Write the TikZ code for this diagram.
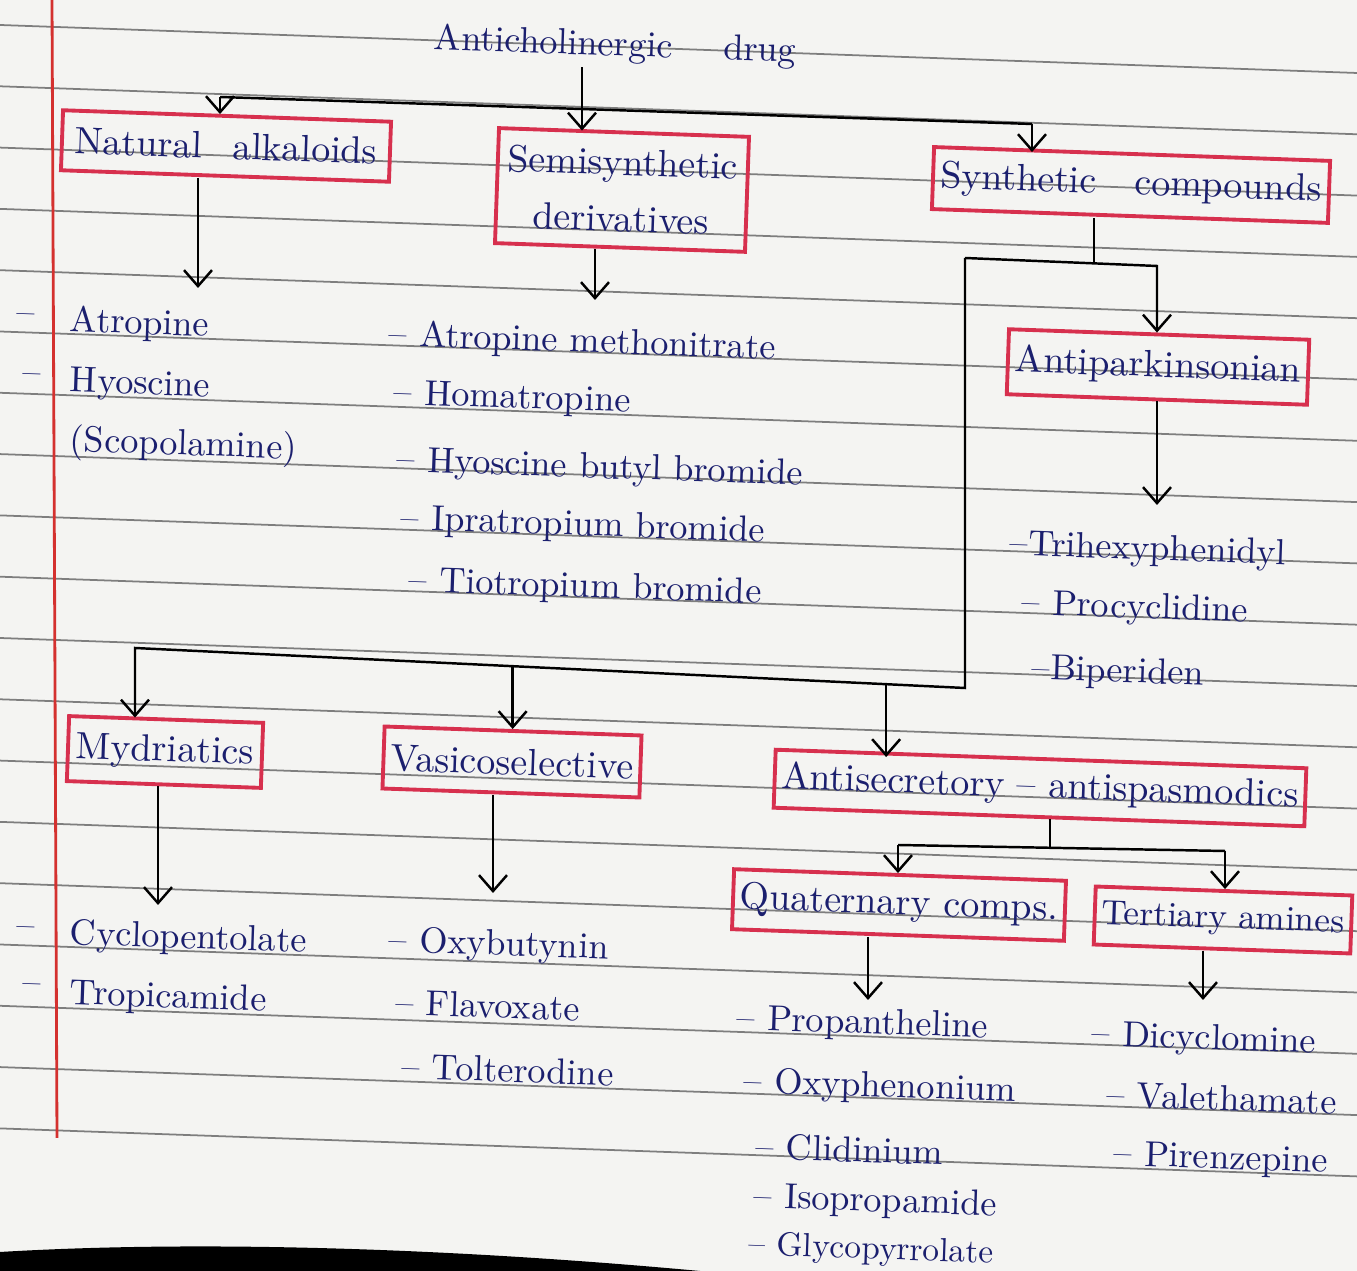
\documentclass[tikz,border=0pt]{standalone}
\usepackage{tikz}
\usetikzlibrary{arrows.meta,calc}
\definecolor{ink}{HTML}{1B1F6E}
\definecolor{boxred}{HTML}{D7304E}
\definecolor{paper}{HTML}{F4F4F2}
\definecolor{ruled}{HTML}{7E7E7E}
\definecolor{margin}{HTML}{D4312F}

\begin{document}
\begin{tikzpicture}[x=0.01cm, y=-0.01cm,
  box/.style={draw=boxred, line width=1.1pt, text=ink, font=\fontsize{10.8}{13}\selectfont, rotate=-2, inner sep=2pt, align=center},
  item/.style={anchor=west, text=ink, font=\fontsize{10.3}{12}\selectfont, rotate=-2, inner sep=1pt},
  arr/.style={-{Straight Barb[length=1.6mm,width=2.8mm]}, line width=0.7pt},
  link/.style={line width=0.7pt},
  rule/.style={ruled, line width=0.5pt}]
\useasboundingbox (0,0) rectangle (1357,1271);
% the notebook page
\fill[paper] (0,0) rectangle (1357,1271);
\foreach \y in {25,86.3,...,1129}
  \draw[rule] (0,\y) -- (1357,\y+48);
\draw[margin, line width=0.8pt] (52,0) -- (57,1138);
\fill[black] (0,1271) -- (0,1252) .. controls (200,1240) and (450,1248) .. (700,1271) -- cycle;

% title and first level
\node[item] (title) at (430,40) {Anticholinergic\hspace{1.4em}drug};
\node[box, minimum width=3.28cm, minimum height=0.6cm] (nat) at (226,146) {Natural\hspace{0.8em}alkaloids};
\node[box, minimum width=2.5cm, minimum height=1.15cm] (semi) at (622,190) {Semisynthetic\\[3pt]derivatives};
\node[box, minimum width=3.96cm, minimum height=0.62cm] (syn) at (1131,185) {Synthetic\hspace{1em}compounds};

\coordinate (t1) at (582,60);
\coordinate (b1) at (220,97);
\coordinate (b2) at (1032,124);
\draw[arr] (title.south -| t1) -- (t1 |- semi.north);
\draw[link] (b1) -- (b2);
\draw[arr] (b1) -- (b1 |- nat.north);
\draw[arr] (b2) -- (b2 |- syn.north);

% natural alkaloids
\coordinate (a1) at (198,288);
\draw[arr] (nat.south -| a1) -- (a1);
\node[item] (d1) at (12,318) {--};
\node[item] (n1) at (66,322) {Atropine};
\node[item] (d2) at (18,378) {--};
\node[item] (n2) at (66,383) {Hyoscine};
\node[item] (n3) at (66,442) {(Scopolamine)};

% semisynthetic derivatives
\coordinate (a2) at (595,300);
\draw[arr] (semi.south -| a2) -- (a2);
\node[item] (e1) at (385,336) {-- Atropine methonitrate};
\node[item] (e2) at (390,395) {-- Homatropine};
\node[item] (e3) at (393,462) {-- Hyoscine butyl bromide};
\node[item] (e4) at (397,520) {-- Ipratropium bromide};
\node[item] (e5) at (405,582) {-- Tiotropium bromide};

% synthetic compounds
\node[box, minimum width=2.8cm, minimum height=0.65cm] (apk) at (1158,367) {Antiparkinsonian};
\coordinate (s1) at (1094,262);
\coordinate (s2) at (965,258);
\coordinate (s3) at (1157,266);
\coordinate (s4) at (965,688);
\coordinate (m1) at (135,648);
\draw[link] (syn.south -| s1) -- (s1);
\draw[arr] (s2) -- (s3) -- (s3 |- apk.north);
\coordinate (a3) at (1157,505);
\draw[arr] (apk.south -| a3) -- (a3);
\node[item] (p1) at (1006,546) {--Trihexyphenidyl};
\node[item] (p2) at (1018,605) {-- Procyclidine};
\node[item] (p3) at (1028,670) {--Biperiden};

% second level
\node[box, minimum width=1.94cm, minimum height=0.65cm] (myd) at (165,752) {Mydriatics};
\node[box, minimum width=2.28cm, minimum height=0.62cm] (ves) at (512,762) {Vasicoselective};
\node[box, minimum width=5.18cm, minimum height=0.58cm] (asec) at (1040,788) {Antisecretory -- antispasmodics};
\coordinate (m2) at ($(m1)!0.455!(s4)$);
\coordinate (m3) at ($(m1)!0.905!(s4)$);
\draw[arr] (s2) -- (s4) -- (m1) -- (m1 |- myd.north);
\draw[arr] (m2) -- (m2 |- ves.north);
\draw[arr] (m3) -- (m3 |- asec.north);

% mydriatics
\coordinate (a4) at (158,905);
\draw[arr] (myd.south -| a4) -- (a4);
\node[item] (d3) at (12,931) {--};
\node[item] (y1) at (66,935) {Cyclopentolate};
\node[item] (d4) at (18,988) {--};
\node[item] (y2) at (66,995) {Tropicamide};

% vasicoselective
\coordinate (a5) at (493,893);
\draw[arr] (ves.south -| a5) -- (a5);
\node[item] (v1) at (385,942) {-- Oxybutynin};
\node[item] (v2) at (392,1002) {-- Flavoxate};
\node[item] (v3) at (398,1066) {-- Tolterodine};

% antisecretory - antispasmodics
\node[box, minimum width=3.1cm, minimum height=0.6cm] (quat) at (899,905) {Quaternary comps.};
\node[box, minimum width=2.43cm, minimum height=0.58cm, font=\fontsize{10}{12}\selectfont] (tert) at (1223,920) {Tertiary amines};
\coordinate (q1) at (1050,848);
\coordinate (q2) at (898,845);
\coordinate (q3) at (1225,851);
\draw[link] (asec.south -| q1) -- (q1);
\draw[link] (q2) -- (q3);
\draw[arr] (q2) -- (q2 |- quat.north);
\draw[arr] (q3) -- (q3 |- tert.north);
\coordinate (a6) at (868,1000);
\coordinate (a7) at (1203,1000);
\draw[arr] (quat.south -| a6) -- (a6);
\draw[arr] (tert.south -| a7) -- (a7);
\node[item] (k1) at (733,1020) {-- Propantheline};
\node[item] (k2) at (740,1083) {-- Oxyphenonium};
\node[item] (k3) at (752,1146) {-- Clidinium};
\node[item] (k4) at (750,1198) {-- Isopropamide};
\node[item, font=\fontsize{9.5}{11}\selectfont] (k5) at (745,1246) {-- Glycopyrrolate};
\node[item] (r1) at (1088,1036) {-- Dicyclomine};
\node[item] (r2) at (1103,1094) {-- Valethamate};
\node[item] (r3) at (1110,1156) {-- Pirenzepine};
\end{tikzpicture}
\end{document}
